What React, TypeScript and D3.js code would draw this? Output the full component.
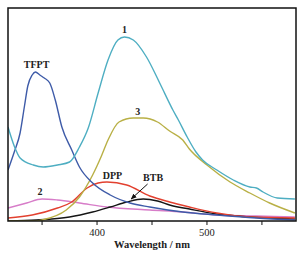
import React from "react";
import * as d3 from "d3";

type Pt = [number, number];

// wavelength (nm), intensity (a.u.)
const curve1: Pt[] = [
  [319, 94], [325, 74], [330, 63], [342, 56], [351, 54], [364, 56], [375, 59],
  [384, 74], [392, 93], [401, 128], [410, 161], [419, 181], [425, 184],
  [433, 181], [445, 164], [457, 138], [469, 111], [474, 101], [482, 84],
  [490, 69], [496, 61], [509, 51], [524, 41], [539, 34], [545, 33], [551, 29],
  [564, 23], [580, 22],
];
const tfpt: Pt[] = [
  [319, 51], [325, 70], [330, 88], [334, 115], [337, 135], [341, 146],
  [344, 149], [348, 146], [352, 143], [357, 138], [362, 121], [368, 94],
  [377, 71], [384, 54], [396, 38], [412, 26], [430, 18], [448, 14], [478, 9],
  [509, 6], [545, 3], [580, 1],
];
const curve3: Pt[] = [
  [319, 0], [345, 0], [350, 1], [372, 11], [384, 24], [396, 46], [404, 65],
  [410, 81], [420, 99], [433, 103], [442, 103], [455, 99], [466, 90],
  [478, 81], [484, 72], [500, 56], [521, 39], [539, 28], [557, 18], [580, 8],
];
const curve2: Pt[] = [
  [319, 13], [336, 18], [350, 22], [364, 21], [384, 18], [409, 14], [448, 11],
  [478, 9], [509, 6], [545, 5], [580, 4],
];
const dpp: Pt[] = [
  [319, 3], [341, 6], [364, 13], [377, 19], [391, 33], [401, 38], [409, 39],
  [427, 36], [448, 25], [466, 19], [484, 14], [509, 8], [539, 4], [580, 3],
];
const btb: Pt[] = [
  [319, 0], [345, 1], [375, 4], [396, 9], [412, 14], [427, 19], [442, 22],
  [455, 20], [466, 16], [484, 12], [509, 7], [539, 4], [580, 2],
];

const series = [
  { data: curve2, color: "#d77cc8" },
  { data: btb, color: "#151515" },
  { data: dpp, color: "#e2402f" },
  { data: curve3, color: "#b9b046" },
  { data: tfpt, color: "#3e5ba8" },
  { data: curve1, color: "#4eaec2" },
];

const labels: { text: string; x: number; y: number }[] = [
  { text: "1", x: 425, y: 188 },
  { text: "TFPT", x: 345, y: 153 },
  { text: "3", x: 437, y: 106 },
  { text: "2", x: 348, y: 26 },
  { text: "DPP", x: 414, y: 42 },
  { text: "BTB", x: 451, y: 40 },
];

const xTicks = [350, 400, 450, 500, 550];
const xTickLabels = [400, 500];

const W = 304;
const H = 254;
const left = 8;
const right = 296;
const top = 8;
const bottom = 221;

export default function App() {
  const x = d3.scaleLinear().domain([319, 581]).range([left, right]);
  const y = d3.scaleLinear().domain([0, 213]).range([bottom, top]);
  const line = d3
    .line<Pt>()
    .x(d => x(d[0]))
    .y(d => y(d[1]))
    .curve(d3.curveMonotoneX);
  const font = "'Liberation Serif', 'Times New Roman', serif";

  return (
    <svg
      width={W}
      height={H}
      style={{ position: "absolute", left: 0, top: 0, background: "#fff" }}
    >
      <defs>
        <marker id="arr" viewBox="0 0 10 10" refX="9" refY="5" markerWidth="6" markerHeight="6" orient="auto">
          <path d="M0,1 L10,5 L0,9 z" fill="#111" />
        </marker>
        <clipPath id="clip">
          <rect x={left} y={top} width={right - left} height={bottom - top} />
        </clipPath>
      </defs>
      <g clipPath="url(#clip)">
        {series.map((s, i) => (
          <path key={i} d={line(s.data) ?? ""} fill="none" stroke={s.color} strokeWidth={1.4} />
        ))}
      </g>
      <rect x={left} y={top} width={right - left} height={bottom - top} fill="none" stroke="#111" strokeWidth={1.5} />
      {xTicks.map(t => (
        <line key={t} x1={x(t)} x2={x(t)} y1={bottom} y2={bottom + 4} stroke="#111" strokeWidth={1} />
      ))}
      {xTickLabels.map(t => (
        <text key={t} x={x(t)} y={bottom + 15} textAnchor="middle" fontFamily={font} fontSize={10.5} fill="#222">
          {t}
        </text>
      ))}
      <text x={(left + right) / 2} y={248} textAnchor="middle" fontFamily={font} fontSize={10.5} fontWeight="bold" fill="#222">
        Wavelength / nm
      </text>
      {labels.map(l => (
        <text key={l.text} x={x(l.x)} y={y(l.y)} textAnchor="middle" fontFamily={font} fontSize={10} fontWeight="bold" fill="#222">
          {l.text}
        </text>
      ))}
      <line x1={x(446)} y1={y(37)} x2={x(431)} y2={y(22)} stroke="#111" strokeWidth={1} markerEnd="url(#arr)" />
    </svg>
  );
}
